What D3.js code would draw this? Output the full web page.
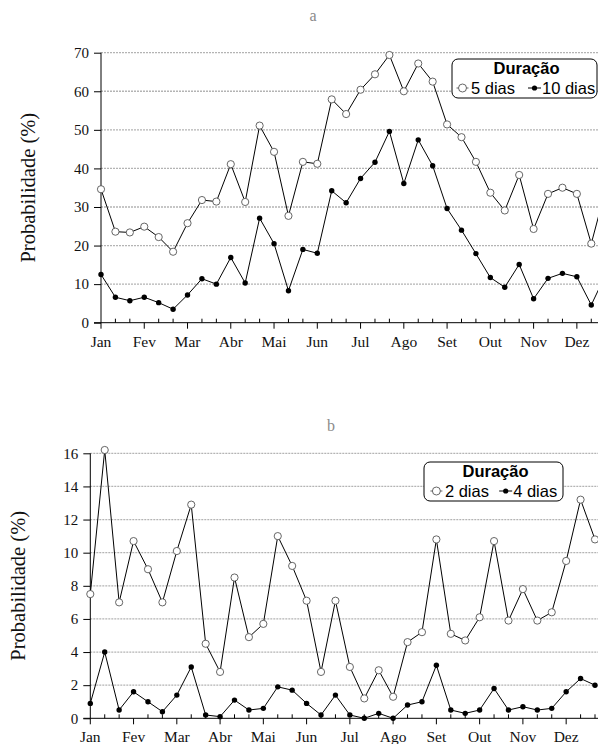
<!DOCTYPE html>
<html>
<head>
<meta charset="utf-8">
<script src="https://cdn.jsdelivr.net/npm/d3@7"></script>
<style>
  body { margin: 0; background: #fff; }
  svg { display: block; }
</style>
</head>
<body>
<div id="chart"></div>
<script>
// meses (3 pontos por mes, 36 no total)
var meses = ["Jan", "Fev", "Mar", "Abr", "Mai", "Jun", "Jul", "Ago", "Set", "Out", "Nov", "Dez"];

// painel a
var dias5 = [34.6, 23.6, 23.4, 24.9, 22.2, 18.4, 25.8, 31.8, 31.4, 41.1, 31.3, 51.1,
             44.3, 27.7, 41.7, 41.2, 57.9, 54.1, 60.4, 64.4, 69.4, 60.0, 67.2, 62.5,
             51.4, 48.1, 41.7, 33.7, 29.1, 38.3, 24.3, 33.4, 35.0, 33.4, 20.5, 34.6];
var dias10 = [12.5, 6.6, 5.7, 6.6, 5.2, 3.5, 7.2, 11.4, 10.0, 16.9, 10.3, 27.1,
              20.5, 8.3, 19.0, 18.0, 34.2, 31.1, 37.4, 41.6, 49.6, 36.1, 47.4, 40.7,
              29.6, 24.0, 17.9, 11.7, 9.2, 15.1, 6.2, 11.5, 12.8, 11.9, 4.6, 12.5];
var ticksA = [0, 10, 20, 30, 40, 50, 60, 70];

// painel b
var dias2 = [7.5, 16.2, 7.0, 10.7, 9.0, 7.0, 10.1, 12.9, 4.5, 2.8, 8.5, 4.9,
             5.7, 11.0, 9.2, 7.1, 2.8, 7.1, 3.1, 1.2, 2.9, 1.3, 4.6, 5.2,
             10.8, 5.1, 4.7, 6.1, 10.7, 5.9, 7.8, 5.9, 6.4, 9.5, 13.2, 10.8];
var dias4 = [0.9, 4.0, 0.5, 1.6, 1.0, 0.4, 1.4, 3.1, 0.2, 0.1, 1.1, 0.5,
             0.6, 1.9, 1.7, 0.9, 0.2, 1.4, 0.2, 0.0, 0.3, 0.0, 0.8, 1.0,
             3.2, 0.5, 0.3, 0.5, 1.8, 0.5, 0.7, 0.5, 0.6, 1.6, 2.4, 2.0];
var ticksB = [0, 2, 4, 6, 8, 10, 12, 14, 16];

var W = 598, H = 744;
var serif = "'Liberation Serif', 'Times New Roman', serif";
var sans = "'Liberation Sans', Arial, sans-serif";

var svg = d3.select("#chart").append("svg")
  .attr("width", W).attr("height", H);

function painel(opt) {
  var g = svg.append("g");
  var x = d3.scaleLinear().domain([0, 33]).range([opt.left, opt.left + 33 * 14.42]);
  var y = d3.scaleLinear().domain([0, opt.max]).range([opt.bottom, opt.top]);

  // titulo
  g.append("text").attr("x", opt.titleX).attr("y", opt.titleY)
    .attr("text-anchor", "middle").attr("fill", "#8a8a8a")
    .style("font-family", serif).style("font-size", "16px").text(opt.title);

  // grade
  g.selectAll("line.grid").data(opt.ticks.slice(1)).enter().append("line")
    .attr("x1", opt.left).attr("x2", W)
    .attr("y1", function(d){ return y(d); }).attr("y2", function(d){ return y(d); })
    .attr("stroke", "#b4b4b4").attr("stroke-width", 1.3).attr("stroke-dasharray", "2,1");

  // eixo y
  var ay = d3.axisLeft(y).tickValues(opt.ticks).tickSize(7).tickPadding(5);
  var gy = g.append("g").attr("transform", "translate(" + opt.left + ",0)").call(ay);
  gy.select(".domain").attr("d", "M0," + y(0) + "V" + y(opt.max));
  gy.selectAll("text").style("font-family", serif).style("font-size", "15px").attr("fill", "#111");

  // eixo x
  g.append("line").attr("x1", opt.left - 7).attr("x2", W)
    .attr("y1", y(0)).attr("y2", y(0)).attr("stroke", "#000");
  var idx = d3.range(36);
  g.selectAll("line.tk").data(idx).enter().append("line")
    .attr("x1", function(d){ return x(d); }).attr("x2", function(d){ return x(d); })
    .attr("y1", function(d){ return d % 3 === 0 ? y(0) : y(0) - 4; })
    .attr("y2", function(d){ return d % 3 === 0 ? y(0) + 6 : y(0); })
    .attr("stroke", "#000");
  g.selectAll("text.mes").data(meses).enter().append("text")
    .attr("x", function(d, i){ return x(i * 3); }).attr("y", y(0) + 24)
    .attr("text-anchor", "middle")
    .style("font-family", serif).style("font-size", "15.5px").attr("fill", "#111")
    .text(function(d){ return d; });

  // rotulo y
  g.append("text")
    .attr("transform", "translate(" + opt.labelX + "," + ((y(0) + y(opt.max)) / 2) + ") rotate(-90)")
    .attr("text-anchor", "middle")
    .style("font-family", serif).style("font-size", "20.5px").attr("fill", "#111")
    .text("Probabilidade (%)");

  // linhas
  var linha = d3.line().x(function(d, i){ return x(i); }).y(function(d){ return y(d); });
  [opt.s1, opt.s2].forEach(function(s){
    g.append("path").datum(s).attr("d", linha)
      .attr("fill", "none").attr("stroke", "#000").attr("stroke-width", 1);
  });
  g.selectAll("circle.aberto").data(opt.s1).enter().append("circle")
    .attr("cx", function(d, i){ return x(i); }).attr("cy", function(d){ return y(d); })
    .attr("r", 3.6).attr("fill", "#fff").attr("stroke", "#555").attr("stroke-width", 0.9);
  g.selectAll("circle.cheio").data(opt.s2).enter().append("circle")
    .attr("cx", function(d, i){ return x(i); }).attr("cy", function(d){ return y(d); })
    .attr("r", 2.7).attr("fill", "#000");

  // legenda
  var L = opt.legend;
  var lg = g.append("g").attr("transform", "translate(" + L.x + "," + L.y + ")");
  lg.append("rect").attr("width", L.w).attr("height", 39).attr("rx", 6)
    .attr("fill", "#fff").attr("stroke", "#000").attr("stroke-width", 1);
  lg.append("text").attr("x", L.w / 2 + 2).attr("y", 14.5).attr("text-anchor", "middle")
    .style("font-family", sans).style("font-size", "16.5px").style("font-weight", "bold")
    .text("Duração");
  var row = lg.append("g").attr("transform", "translate(0,29)");
  row.append("line").attr("x1", L.c1 - 6).attr("x2", L.c1 + 6).attr("stroke", "#666");
  row.append("circle").attr("cx", L.c1).attr("r", 4).attr("fill", "#fff").attr("stroke", "#666");
  row.append("text").attr("x", L.c1 + 8.5).attr("y", 6).style("font-family", sans).style("font-size", "16.5px")
    .text(L.n1);
  row.append("line").attr("x1", L.c2 - 6.5).attr("x2", L.c2 + 6.5).attr("stroke", "#000");
  row.append("circle").attr("cx", L.c2).attr("r", 2.6).attr("fill", "#000");
  row.append("text").attr("x", L.c2 + 7.5).attr("y", 6).style("font-family", sans).style("font-size", "16.5px")
    .text(L.n2);
}

painel({ title: "a", titleX: 313, titleY: 21, left: 101, top: 52.7, bottom: 322.7, max: 70, ticks: ticksA,
  labelX: 35, s1: dias5, s2: dias10,
  legend: { x: 452, y: 59, w: 145, c1: 10.5, c2: 82.5, n1: "5 dias", n2: "10 dias" } });

painel({ title: "b", titleX: 331, titleY: 431, left: 90.3, top: 453.3, bottom: 718.3, max: 16, ticks: ticksB,
  labelX: 25, s1: dias2, s2: dias4,
  legend: { x: 424, y: 462, w: 139, c1: 12.4, c2: 81.7, n1: "2 dias", n2: "4 dias" } });
</script>
</body>
</html>
